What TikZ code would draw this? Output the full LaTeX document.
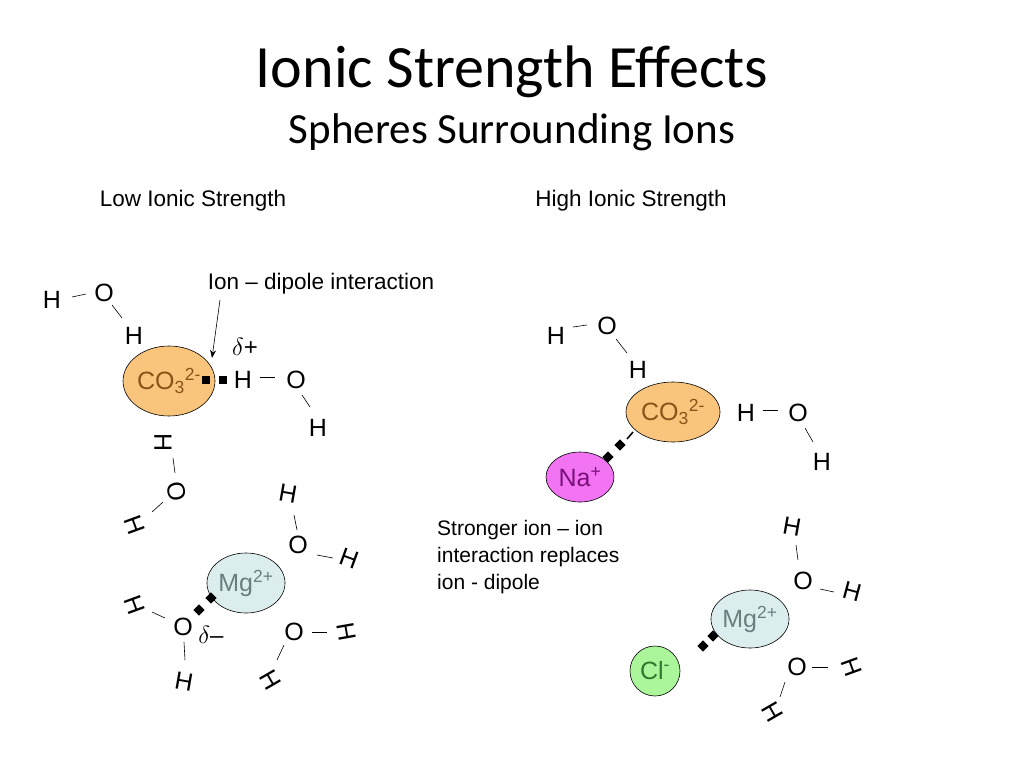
\documentclass[tikz,border=0pt]{standalone}
\usepackage{fontspec}
\setmainfont{Liberation Sans}
\newfontfamily\ttlfont{Carlito}
\usetikzlibrary{shapes.geometric,arrows.meta}
\definecolor{orng}{HTML}{F9C47C}
\definecolor{brn}{HTML}{8A5418}
\definecolor{mgf}{HTML}{DCEDEE}
\definecolor{mgt}{HTML}{6A7F80}
\definecolor{naf}{HTML}{F274F2}
\definecolor{nat}{HTML}{7A107A}
\definecolor{clf}{HTML}{ABF59A}
\definecolor{clt}{HTML}{2E7A2E}
\begin{document}
\begin{tikzpicture}[x=1pt,y=-1pt,
 atm/.style={inner sep=0pt,font=\fontsize{25}{27}\selectfont},
 bd/.style={line width=0.6pt},
 lbl/.style={inner sep=0pt,font=\fontsize{22.5}{26}\selectfont},
 ion/.style={ellipse,draw=black,line width=0.6pt,minimum width=#1,inner sep=0pt,font=\fontsize{25}{27}\selectfont},
 sq/.style={fill=black,minimum size=8pt,inner sep=0pt},
 dm/.style={fill=black,minimum size=8pt,inner sep=0pt,rotate=45}]
\useasboundingbox (0,0) rectangle (1024,768);
\node[inner sep=0pt,font=\ttlfont\fontsize{60}{64}\selectfont] (t) at (512,72) {Ionic Strength Effects};
\node[inner sep=0pt,font=\ttlfont\fontsize{43}{46}\selectfont] (st) at (512,132) {Spheres Surrounding Ions};
\node[lbl] (low) at (193,201) {Low Ionic Strength};
\node[lbl] (high) at (631,201) {High Ionic Strength};
% left CO3
\node[ion=92pt,minimum height=70pt,fill=orng,text=brn] (c1) at (169,381) {CO\textsubscript{3}\textsuperscript{2-}};
\node[sq] (s1) at (206,380) {}; \node[sq] (s2) at (223,380) {};
\node[inner sep=0pt,font=\fontsize{24}{26}\selectfont] (dp) at (245,347) {$\delta$+};
\node[atm] (a1) at (52,300) {H}; \node[atm] (a2) at (104,293) {O}; \node[atm] (a3) at (134,336) {H};
\draw[bd] (72,297) -- (86,294);
\draw[bd] (112,305) -- (122,318);
\node[atm] (a4) at (243,380) {H}; \node[atm] (a5) at (296,380) {O}; \node[atm] (a6) at (318,428) {H};
\draw[bd] (260,377) -- (275,377); \draw[bd] (302,395) -- (310,407);
\node[lbl] (idl) at (321,284) {Ion – dipole interaction};
\coordinate (ar) at (212,358);
\draw[-{Stealth[length=8pt]},line width=0.6pt] (220,300) -- (ar);
\node[atm,rotate=-90] (a7) at (163,443) {H}; \node[atm,rotate=-80] (a8) at (177,492) {O}; \node[atm,rotate=-70] (a9) at (135,525) {H};
\draw[bd] (173,458) -- (175,473); \draw[bd] (163,502) -- (152,512);
\node[atm,rotate=-10] (a10) at (288,494) {H}; \node[atm] (a11) at (298,545) {O}; \node[atm,rotate=-20] (a12) at (349,558) {H};
\draw[bd] (294,515) -- (297,530); \draw[bd] (317,555) -- (333,558);
\node[ion=70pt,minimum height=60pt,fill=mgf,text=mgt] (m1) at (246,583) {Mg\textsuperscript{2+}};
\node[dm] (d1) at (211,598) {}; \node[dm] (d2) at (199,610) {};
\node[atm,rotate=-70] (a13) at (135,605) {H}; \node[atm] (a14) at (183,627) {O};
\node[inner sep=0pt,font=\fontsize{24}{26}\selectfont] (dm1) at (211,635) {$\delta$–};
\node[atm,rotate=-10] (a15) at (184,682) {H};
\draw[bd] (152,612) -- (165,618); \draw[bd] (184,642) -- (185,660);
\node[atm] (a16) at (294,632) {O}; \node[atm,rotate=-80] (a17) at (347,632) {H}; \node[atm,rotate=-60] (a18) at (270,680) {H};
\draw[bd] (312,632) -- (327,632); \draw[bd] (284,645) -- (277,660);
% right
\node[atm] (r1) at (556,336) {H}; \node[atm] (r2) at (607,326) {O}; \node[atm] (r3) at (638,370) {H};
\draw[bd] (573,327) -- (587,325); \draw[bd] (616,339) -- (627,353);
\node[ion=94pt,minimum height=60pt,fill=orng,text=brn] (c2) at (673,412) {CO\textsubscript{3}\textsuperscript{2-}};
\node[atm] (r4) at (746,413) {H}; \node[atm] (r5) at (798,413) {O}; \node[atm] (r6) at (822,462) {H};
\draw[bd] (763,410) -- (778,410); \draw[bd] (805,428) -- (813,442);
\node[ion=68pt,minimum height=50pt,fill=naf,text=nat] (na) at (580,477) {Na\textsuperscript{+}};
\draw[line width=1.5pt] (627,439) -- (633,432);
\node[dm] (d3) at (620,445) {}; \node[dm] (d4) at (608,457) {};
\node[lbl,align=left,anchor=north west,font=\fontsize{21}{27}\selectfont] (txt) at (437,520) {Stronger ion – ion\\interaction replaces\\ion - dipole};
\node[atm,rotate=-10] (r7) at (792,527) {H}; \node[atm] (r8) at (803,581) {O}; \node[atm,rotate=-15] (r9) at (852,592) {H};
\draw[bd] (796,545) -- (798,560); \draw[bd] (820,589) -- (834,592);
\node[ion=68pt,minimum height=58pt,fill=mgf,text=mgt] (m2) at (750,619) {Mg\textsuperscript{2+}};
\node[dm] (d5) at (713,636) {}; \node[dm] (d6) at (703,646) {};
\node[ion=50pt,minimum height=50pt,fill=clf,text=clt] (cl) at (655,671) {Cl\textsuperscript{-}};
\node[atm] (r10) at (797,667) {O}; \node[atm,rotate=-70] (r11) at (852,667) {H}; \node[atm,rotate=-60] (r12) at (772,712) {H};
\draw[bd] (812,667) -- (828,667); \draw[bd] (785,682) -- (780,697);
\end{tikzpicture}
\end{document}
